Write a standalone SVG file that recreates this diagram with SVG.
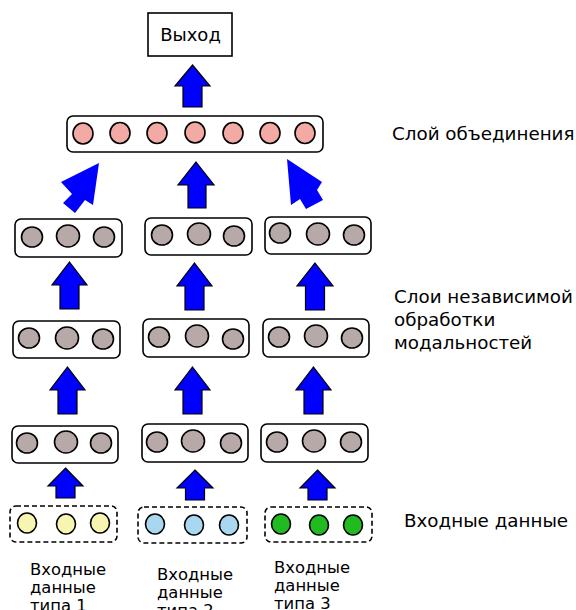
<svg xmlns="http://www.w3.org/2000/svg" width="576" height="610" viewBox="0 0 576 610">
<style>
.box{fill:#fff;stroke:#000;stroke-width:1.6}
.dbox{fill:#fff;stroke:#000;stroke-width:1.6;stroke-dasharray:5,3}
.n{stroke:#000;stroke-width:1.6}
.p{fill:#f4aaa4}
.g{fill:#b8a9a9}
.y{fill:#f6f6b0}
.b{fill:#a9d7ef}
.gr{fill:#21bb21}
.arr{fill:#0000ff;stroke:#000;stroke-width:1.2;stroke-linejoin:miter}
.darr{fill:#0000ff}
.t{font-family:"DejaVu Sans",sans-serif;fill:#000}
.lbl{font-size:18.3px}
.sm{font-size:16.4px}
</style>
<rect width="576" height="610" fill="#fff"/>

<g id="output">
<rect class="box" x="148" y="13" width="84" height="43"/>
<text class="t" style="font-size:18px" x="190.5" y="40.5" text-anchor="middle">Выход</text>
</g>

<g id="fusion">
<rect class="box" x="67" y="116" width="256" height="36" rx="6"/>
<ellipse class="n p" cx="83" cy="133.5" rx="10" ry="10.5"/>
<ellipse class="n p" cx="120" cy="133" rx="10" ry="10.5"/>
<ellipse class="n p" cx="157" cy="133" rx="10" ry="10.5"/>
<ellipse class="n p" cx="195" cy="132.5" rx="10" ry="10.5"/>
<ellipse class="n p" cx="233" cy="133" rx="10" ry="10.5"/>
<ellipse class="n p" cx="270" cy="133" rx="10" ry="10.5"/>
<ellipse class="n p" cx="305" cy="133" rx="10" ry="10.5"/>
</g>

<g id="proc1a">
<rect class="box" x="15" y="219" width="107" height="38" rx="6"/>
<ellipse class="n g" cx="32" cy="237" rx="10.5" ry="10"/>
<ellipse class="n g" cx="68" cy="236" rx="11.5" ry="11"/>
<ellipse class="n g" cx="104" cy="237" rx="10.5" ry="10"/>
</g>
<g id="proc2a">
<rect class="box" x="145" y="218" width="107" height="37" rx="6"/>
<ellipse class="n g" cx="162" cy="235" rx="10.5" ry="10"/>
<ellipse class="n g" cx="199" cy="234" rx="11.5" ry="11"/>
<ellipse class="n g" cx="234" cy="236" rx="10.5" ry="10"/>
</g>
<g id="proc3a">
<rect class="box" x="265" y="217" width="106" height="37" rx="6"/>
<ellipse class="n g" cx="280" cy="233" rx="10.5" ry="10"/>
<ellipse class="n g" cx="318" cy="234" rx="11.5" ry="11"/>
<ellipse class="n g" cx="354" cy="235" rx="10.5" ry="10"/>
</g>

<g id="proc1b">
<rect class="box" x="13" y="321" width="107" height="37" rx="6"/>
<ellipse class="n g" cx="29" cy="338" rx="10.5" ry="10"/>
<ellipse class="n g" cx="67" cy="338" rx="11.5" ry="11"/>
<ellipse class="n g" cx="103" cy="339" rx="10.5" ry="10"/>
</g>
<g id="proc2b">
<rect class="box" x="143" y="319" width="106" height="38" rx="6"/>
<ellipse class="n g" cx="159" cy="337" rx="10.5" ry="10"/>
<ellipse class="n g" cx="197" cy="336" rx="11.5" ry="11"/>
<ellipse class="n g" cx="233" cy="339" rx="10.5" ry="10"/>
</g>
<g id="proc3b">
<rect class="box" x="263" y="319" width="106" height="38" rx="6"/>
<ellipse class="n g" cx="279" cy="337" rx="10.5" ry="10"/>
<ellipse class="n g" cx="316" cy="336" rx="11.5" ry="11"/>
<ellipse class="n g" cx="352" cy="338" rx="10.5" ry="10"/>
</g>

<g id="proc1c">
<rect class="box" x="12" y="426" width="106" height="37" rx="6"/>
<ellipse class="n g" cx="27" cy="443" rx="10.5" ry="10"/>
<ellipse class="n g" cx="66" cy="442" rx="11.5" ry="11"/>
<ellipse class="n g" cx="101" cy="443" rx="10.5" ry="10"/>
</g>
<g id="proc2c">
<rect class="box" x="142" y="424" width="106" height="38" rx="6"/>
<ellipse class="n g" cx="157" cy="442" rx="10.5" ry="10"/>
<ellipse class="n g" cx="193" cy="441" rx="11.5" ry="11"/>
<ellipse class="n g" cx="231" cy="443" rx="10.5" ry="10"/>
</g>
<g id="proc3c">
<rect class="box" x="261" y="424" width="107" height="38" rx="6"/>
<ellipse class="n g" cx="277" cy="442" rx="10.5" ry="10"/>
<ellipse class="n g" cx="314" cy="441" rx="11.5" ry="11"/>
<ellipse class="n g" cx="351" cy="442" rx="10.5" ry="10"/>
</g>

<g id="input1">
<rect class="dbox" x="10" y="506" width="107" height="36" rx="6"/>
<ellipse class="n y" cx="27" cy="523" rx="9.5" ry="10"/>
<ellipse class="n y" cx="66" cy="524" rx="9.5" ry="10"/>
<ellipse class="n y" cx="100" cy="523" rx="9.5" ry="10"/>
</g>
<g id="input2">
<rect class="dbox" x="138" y="507" width="109" height="36" rx="6"/>
<ellipse class="n b" cx="155" cy="524" rx="9.5" ry="10"/>
<ellipse class="n b" cx="194" cy="525" rx="9.5" ry="10"/>
<ellipse class="n b" cx="229" cy="525" rx="9.5" ry="10"/>
</g>
<g id="input3">
<rect class="dbox" x="265" y="507" width="107" height="35" rx="6"/>
<ellipse class="n gr" cx="281" cy="524" rx="9.5" ry="10"/>
<ellipse class="n gr" cx="319" cy="525" rx="9.5" ry="10"/>
<ellipse class="n gr" cx="353" cy="525" rx="9.5" ry="10"/>
</g>

<g id="connectors">
<polygon class="arr" points="192.5,65 210,86 202,86 202,107 183,107 183,86 175,86"/>
<polygon class="arr" points="196,162 214,185 206,185 206,208 188,208 188,185 178,185"/>
<polygon class="darr" points="99,163 93,205 85,200 75,213 63,203 72,194 61,182"/>
<polygon class="darr" points="287,159 322,182 317,190 323,200 306,209 300,199 291,205"/>

<polygon class="arr" points="69.5,262 87,285 79,285 79,309 60,309 60,285 52,285"/>
<polygon class="arr" points="194.5,263 212,286 204,286 204,310 185,310 185,286 177,286"/>
<polygon class="arr" points="315,263 333,286 324.5,286 324.5,310 305.5,310 305.5,286 297,286"/>

<polygon class="arr" points="67.5,367 85,390 77,390 77,414 58,414 58,390 50,390"/>
<polygon class="arr" points="192.5,367 210,390 202,390 202,414 183,414 183,390 175,390"/>
<polygon class="arr" points="313.5,367 331,390 323,390 323,414 304,414 304,390 296,390"/>

<polygon class="arr" points="65.5,468 83,486 75,486 75,498 56,498 56,486 48,486"/>
<polygon class="arr" points="195,470 213,488 204.5,488 204.5,500 185.5,500 185.5,488 177,488"/>
<polygon class="arr" points="317.5,470 335,488 327,488 327,500 308,500 308,488 300,488"/>
</g>

<g id="labels">
<text class="t lbl" x="392" y="140">Слой объединения</text>
<text class="t lbl" x="394" y="303">Слои независимой</text>
<text class="t lbl" x="394" y="326">обработки</text>
<text class="t lbl" x="394" y="349">модальностей</text>
<text class="t lbl" x="404" y="527">Входные данные</text>
<text class="t sm" x="30" y="575">Входные</text>
<text class="t sm" x="30" y="593">данные</text>
<text class="t sm" x="30" y="611">типа 1</text>
<text class="t sm" x="157" y="580">Входные</text>
<text class="t sm" x="157" y="598">данные</text>
<text class="t sm" x="157" y="616">типа 2</text>
<text class="t sm" x="274" y="573">Входные</text>
<text class="t sm" x="274" y="591">данные</text>
<text class="t sm" x="274" y="609">типа 3</text>
</g>
</svg>
